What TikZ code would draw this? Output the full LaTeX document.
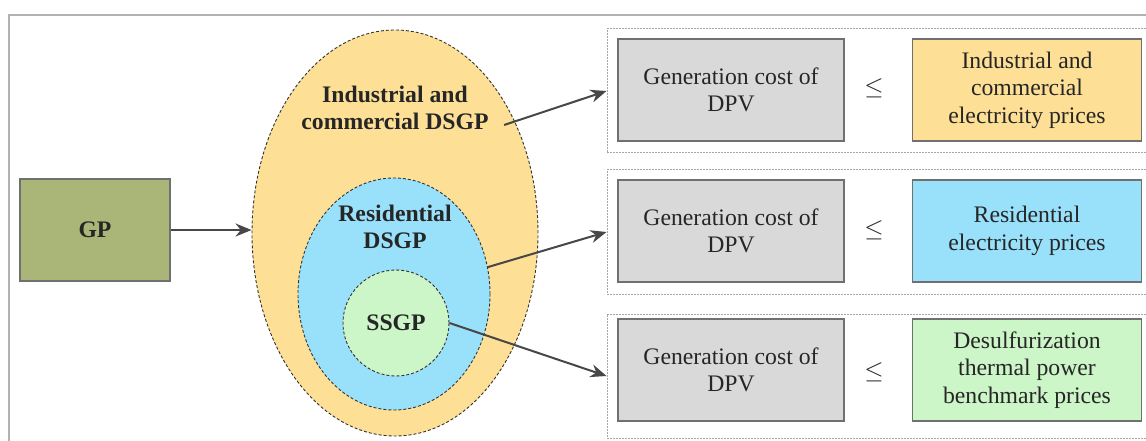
\documentclass[tikz,border=0pt]{standalone}
\usepackage{fontspec}
\setmainfont{Liberation Serif}
\usetikzlibrary{shapes.geometric,arrows.meta}

\definecolor{gpolive}{RGB}{169,182,120}
\definecolor{dsorange}{RGB}{253,223,150}
\definecolor{dsblue}{RGB}{153,224,250}
\definecolor{ssgreen}{RGB}{204,245,200}
\definecolor{costgray}{RGB}{217,217,217}
\definecolor{linegray}{RGB}{112,112,112}

\tikzset{
  dgbox/.style={draw=linegray, line width=1.2pt, minimum width=226pt, minimum height=102pt, align=center, inner sep=2pt},
  dgset/.style={ellipse, draw=black!80, line width=.9pt, densely dashed, inner sep=0pt},
  dgpanel/.style={draw=gray!70, line width=1pt, dash pattern=on 2pt off 1pt, minimum width=560pt, minimum height=124pt},
  dgarrow/.style={draw=black!72, line width=2pt, -{Stealth[length=16pt,width=13pt]}},
  dglabel/.style={font=\fontsize{23.7}{27.5}\selectfont\bfseries, align=center, text=black!85},
  dgtext/.style={font=\fontsize{23.7}{27.5}\selectfont, align=center, text=black!85}
}

\begin{document}
\begin{tikzpicture}[x=1pt, y=-1pt]
\clip (0,0) rectangle (1146,441);
\fill[white] (0,0) rectangle (1146,441);
\draw[gray!60, line width=1.5pt] (9,460) -- (9,15) -- (1160,15);

% left part
\node[draw=linegray, line width=1.2pt, fill=gpolive, minimum width=150pt, minimum height=102pt, dglabel] (gp) at (95,230) {GP};
\node[dgset, fill=dsorange, minimum width=286pt, minimum height=406pt] (ind) at (395,233) {};
\node[dgset, fill=dsblue, minimum width=192pt, minimum height=232pt] (res) at (394,294) {};
\node[dgset, circle, fill=ssgreen, minimum size=106pt] (ssgp) at (396,323) {};

\node[dglabel] (indtxt) at (395,108) {Industrial and\\commercial DSGP};
\node[dglabel] (restxt) at (395,227) {Residential\\DSGP};
\node[dglabel] (sstxt) at (396,323) {SSGP};
\coordinate (indout) at ([shift={(12,17)}]indtxt.east);

% right part
\node[dgpanel] (p1) at (887,91) {};
\node[dgpanel] (p2) at (887,232) {};
\node[dgpanel] (p3) at (887,376) {};

\node[dgbox, fill=costgray, dgtext] (c1) at (731,90) {Generation cost of\\DPV};
\node[dgbox, fill=costgray, dgtext] (c2) at (731,231) {Generation cost of\\DPV};
\node[dgbox, fill=costgray, dgtext] (c3) at (731,370) {Generation cost of\\DPV};

\node[dgtext] (le1) at (874,88) {$\leq$};
\node[dgtext] (le2) at (874,230) {$\leq$};
\node[dgtext] (le3) at (874,372) {$\leq$};

\node[dgbox, fill=dsorange, minimum width=229pt, dgtext] (pr1) at (1027,90) {Industrial and\\commercial\\electricity prices};
\node[dgbox, fill=dsblue, minimum width=229pt, dgtext] (pr2) at (1027,231) {Residential\\electricity prices};
\node[dgbox, fill=ssgreen, minimum width=229pt, dgtext] (pr3) at (1027,370) {Desulfurization\\thermal power\\benchmark prices};

% arrows
\draw[dgarrow] (gp.east) -- (gp.east -| ind.west);
\draw[dgarrow] (indout) -- (p1.west);
\draw[dgarrow] (res.16) -- (p2.west);
\draw[dgarrow] (ssgp.east) -- (p3.west);
\end{tikzpicture}
\end{document}
